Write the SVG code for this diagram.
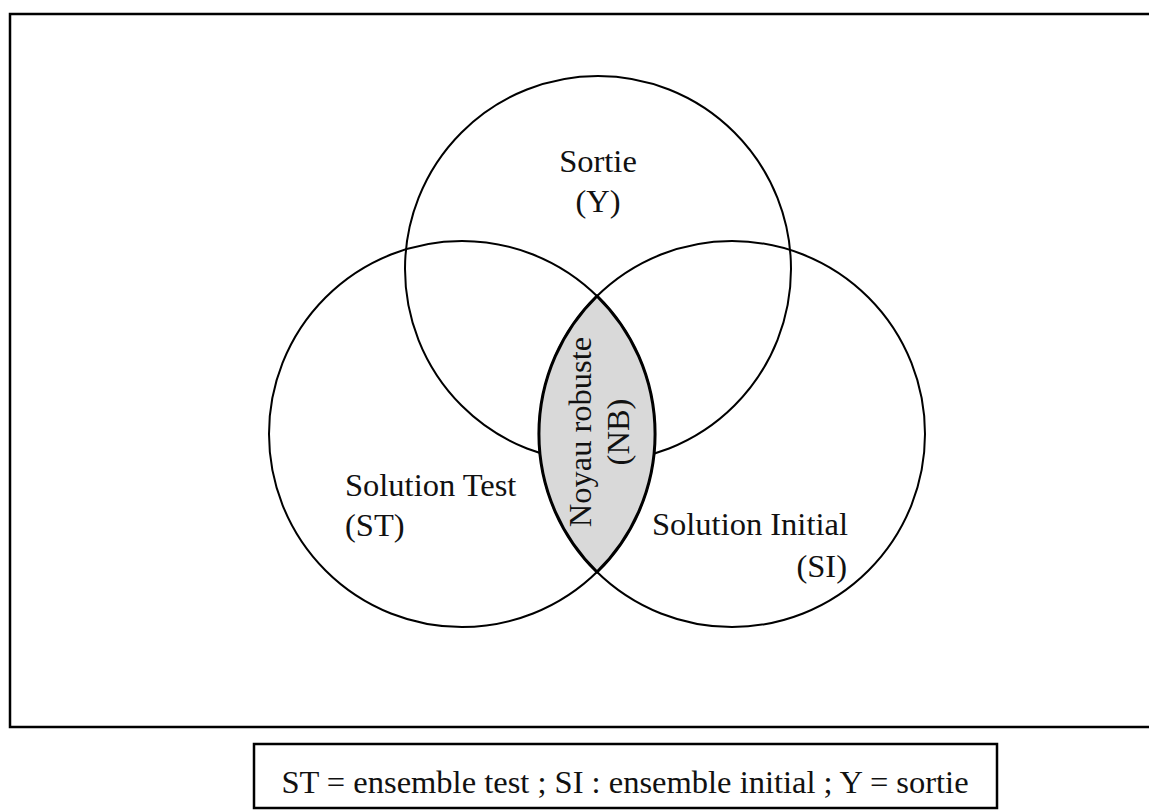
<svg xmlns="http://www.w3.org/2000/svg" width="1149" height="812" viewBox="0 0 1149 812">
<style>
.c{fill:none;stroke:#000;stroke-width:2}
.t{font-family:"Liberation Serif","Times New Roman",serif;font-size:32.5px;fill:#111}
</style>
<rect x="0" y="0" width="1149" height="812" fill="#fff"/>
<rect x="10" y="14" width="1145" height="713" fill="none" stroke="#000" stroke-width="2.5"/>
<g id="sortie">
<circle class="c" cx="598" cy="269" r="193"/>
<text class="t" x="598" y="172" text-anchor="middle">Sortie</text>
<text class="t" x="598" y="212" text-anchor="middle">(Y)</text>
</g>
<g id="solution-test">
<circle class="c" cx="462" cy="434" r="193"/>
<text class="t" x="345" y="496">Solution Test</text>
<text class="t" x="345" y="536">(ST)</text>
</g>
<g id="solution-initial">
<circle class="c" cx="732" cy="434" r="193"/>
<text class="t" x="652" y="535">Solution Initial</text>
<text class="t" x="847" y="577" text-anchor="end">(SI)</text>
</g>
<g id="noyau">
<path d="M597 296 A193 193 0 0 1 597 572 A193 193 0 0 1 597 296 Z" fill="#d9d9d9" stroke="#000" stroke-width="3"/>
<text class="t" transform="translate(591,432) rotate(-90)" text-anchor="middle">Noyau robuste</text>
<text class="t" transform="translate(629,432) rotate(-90)" text-anchor="middle">(NB)</text>
</g>
<g id="legend">
<rect x="254" y="744" width="743" height="64" fill="none" stroke="#000" stroke-width="2.5"/>
<text class="t" x="625" y="793" text-anchor="middle">ST = ensemble test ; SI : ensemble initial ; Y = sortie</text>
</g>
<g id="connectors"></g>
</svg>
